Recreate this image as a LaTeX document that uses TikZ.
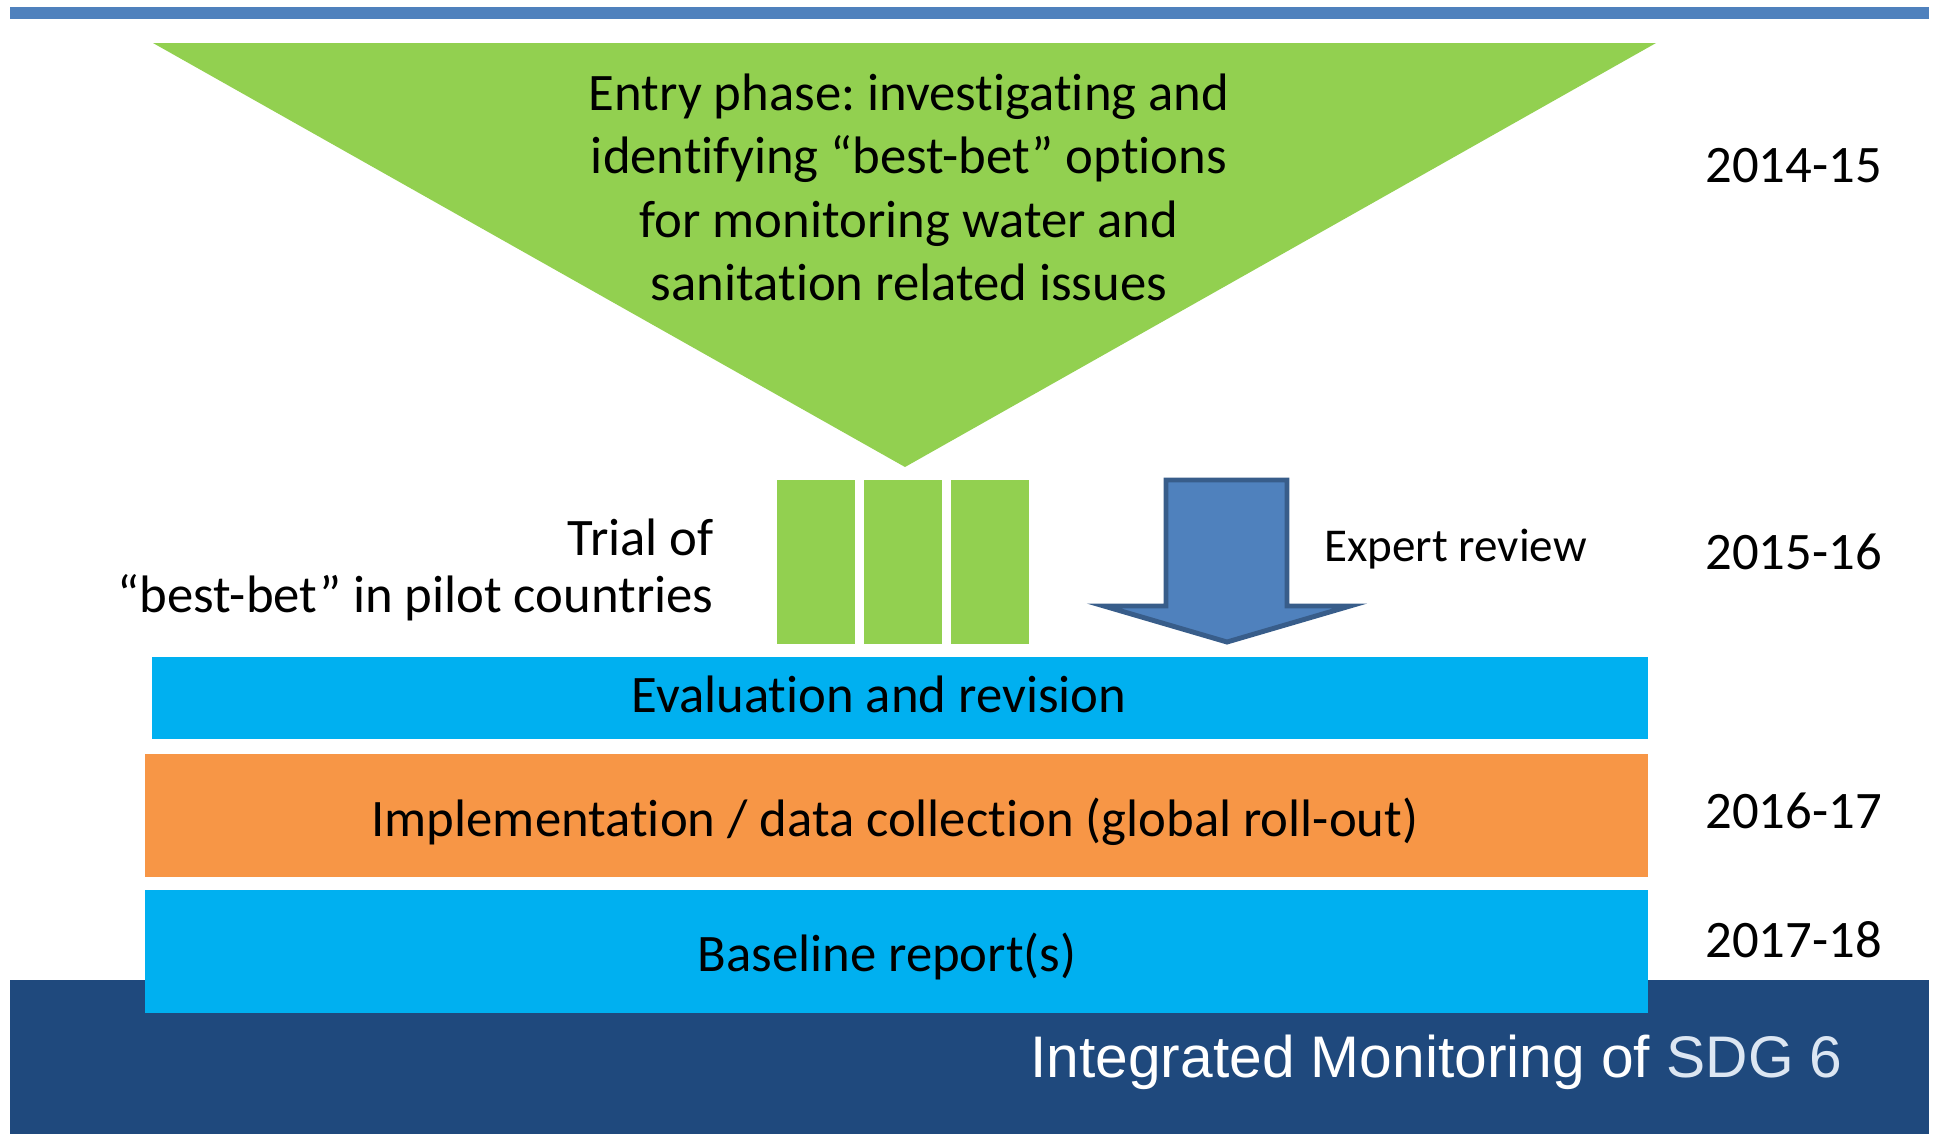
\documentclass[tikz,border=0pt]{standalone}
\usepackage{fontspec}
\setmainfont{Carlito}[Ligatures=CommonOff]
\newfontfamily\titlefont{Liberation Sans}
\frenchspacing
\definecolor{barblue}{HTML}{4F81BD}
\definecolor{leafgreen}{HTML}{92D050}
\definecolor{skyblue}{HTML}{00B0F0}
\definecolor{amber}{HTML}{F79646}
\definecolor{navy}{HTML}{1F497D}
\definecolor{arrowedge}{HTML}{385D8A}
\definecolor{paleblue}{HTML}{DCE6F2}

\begin{document}
\begin{tikzpicture}[x=0.02cm,y=-0.02cm,
  txt/.style={inner sep=0pt, font=\fontsize{30}{36}\selectfont, anchor=base},
  txtleft/.style={txt, anchor=base west},
  txtright/.style={txt, anchor=base east},
  year/.style={txtleft},
  pilot/.style={fill=leafgreen},
  band/.style={fill=skyblue}]
\useasboundingbox (0,0) rectangle (1939,1134);

% header rule
\fill[barblue] (10,7) rectangle (1929,19);

% entry funnel
\fill[leafgreen] (153,43) -- (1656,43) -- (905,467) -- cycle;
\node[txt] (entry1) at (909,110) {Entry phase: investigating and};
\node[txt] (entry2) at (909,173) {identifying “best-bet” options};
\node[txt] (entry3) at (909,237) {for monitoring water and};
\node[txt] (entry4) at (909,300) {sanitation related issues};
\node[year] (y1) at (1705,182) {2014-15};

% pilot trials
\fill[pilot] (777,480) rectangle (855,644);
\fill[pilot] (864,480) rectangle (942,644);
\fill[pilot] (951,480) rectangle (1029,644);
\node[txtright] (trial1) at (714,555) {Trial of};
\node[txtright] (trial2) at (714,612) {“best-bet” in pilot countries};

% expert review arrow
\draw[arrowedge, fill=barblue, line width=2.8pt, line join=miter]
  (1166,480) -- (1287,480) -- (1287,606) -- (1350,606) -- (1227,642)
  -- (1104,606) -- (1166,606) -- cycle;
\node[txtleft, font=\fontsize{26.8}{32}\selectfont] (expert) at (1324,561) {Expert review};
\node[year] (y2) at (1705,569) {2015-16};

% evaluation band
\fill[band] (152,657) rectangle (1648,739);
\node[txt] (eval) at (879,712) {Evaluation and revision};

% implementation band
\fill[amber] (145,754) rectangle (1648,877);
\node[txt] (impl) at (895,836) {Implementation / data collection (global roll-out)};
\node[year] (y3) at (1705,828) {2016-17};

% footer
\fill[navy] (10,980) rectangle (1929,1134);
\fill[band] (145,890) rectangle (1648,1013);
\node[txt] (base) at (887,971) {Baseline report(s)};
\node[year] (y4) at (1705,957) {2017-18};
\node[inner sep=0pt, anchor=base east, text=white,
  font=\titlefont\fontsize{33.4}{40}\selectfont] (title) at (1843,1077)
  {Integrated Monitoring of \textcolor{paleblue}{SDG 6}};
\end{tikzpicture}
\end{document}
